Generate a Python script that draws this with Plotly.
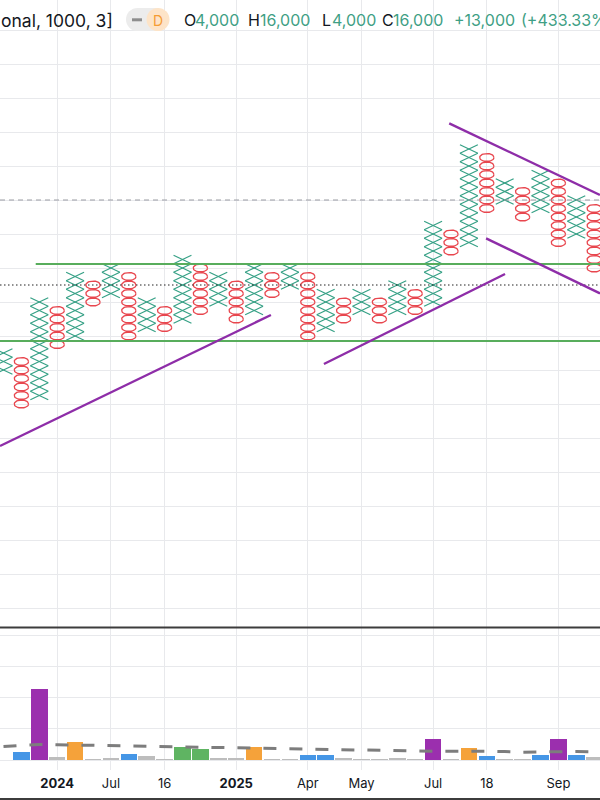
import numpy as np
import plotly.graph_objects as go

# ---------------- data ----------------
# Point & Figure columns (price in box units, box size 1000, reversal 3)
col_type = ["X", "O"] * 17
col_high = [22, 21, 28, 27, 31, 30, 32, 31, 28, 27, 33, 32, 31, 30, 32, 31, 32,
            31, 29, 28, 29, 28, 30, 29, 37, 36, 46, 45, 42, 41, 43, 42, 40, 39]
col_low = [20, 16, 17, 23, 24, 28, 29, 24, 25, 25, 26, 27, 28, 26, 27, 29, 30,
           24, 25, 26, 27, 26, 27, 27, 28, 34, 35, 39, 40, 38, 39, 35, 36, 32]

# volume per column and its moving average
volume = [0.0, 0.27, 2.28, 0.11, 0.59, 0.03, 0.07, 0.18, 0.13, 0.02, 0.42, 0.34,
          0.04, 0.04, 0.43, 0.02, 0.02, 0.16, 0.16, 0.04, 0.02, 0.02, 0.06, 0.02,
          0.67, 0.02, 0.39, 0.13, 0.02, 0.02, 0.15, 0.67, 0.16, 0.10]
volume_group = ["gray", "blue", "purple", "gray", "orange", "gray", "gray", "blue",
                "gray", "gray", "green", "green", "gray", "gray", "orange", "gray",
                "gray", "blue", "blue", "gray", "gray", "gray", "gray", "gray",
                "purple", "gray", "orange", "blue", "gray", "gray", "blue", "purple",
                "blue", "gray"]
volume_ma = [0.43, 0.46, 0.50, 0.49, 0.48, 0.46, 0.45, 0.43, 0.42, 0.41, 0.41, 0.40,
             0.39, 0.38, 0.38, 0.36, 0.34, 0.33, 0.33, 0.31, 0.30, 0.29, 0.28, 0.28,
             0.28, 0.28, 0.29, 0.28, 0.27, 0.25, 0.26, 0.27, 0.27, 0.26]

# time axis labels (column index -> label)
tick_cols = [3, 6, 9, 13, 17, 20, 24, 27, 31]
tick_labels = ["2024", "Jul", "16", "2025", "Apr", "May", "Jul", "18", "Sep"]
bold_labels = {"2024", "2025"}

# reference levels and drawn trend lines (column, price)
dashed_level = 40
dotted_level = 30
green_lines = [((1.8, 32.47), (34.0, 32.47)), ((-0.3, 23.41), (34.0, 23.41))]
purple_lines = [((-0.1955, 11.06), (14.94, 26.47)),
                ((17.9, 20.71), (28.02, 31.29)),
                ((24.9, 49.02), (33.32, 40.59)),
                ((26.96, 35.49), (33.32, 29.02))]

# ---------------- style ----------------
X_COLOR = "#35a085"
O_COLOR = "#e8464e"
GRID = "#e8e9ec"
TEXT = "#131722"
GREEN_TXT = "#3f9f85"
VOL_COLORS = {"gray": "#bdbdbd", "blue": "#4596e6", "purple": "#9b2fae",
              "orange": "#f5a23a", "green": "#5fb462"}
FONT = "Inter, Roboto, Arial, sans-serif"

W, H = 600, 800
PLOT_BOTTOM = 770  # px where plotting area ends
X_LEFT = -3.5 / 17.9
X_RIGHT = (600 - 3.5) / 17.9
BOX_PX = 8.5
Y_TOP = 40 + 200 / BOX_PX
Y_BOT = 40 - 427 / BOX_PX
VOL_PX = 31.2


def px2x(px):
    return px / W


def py2y(py):
    return (PLOT_BOTTOM - py) / PLOT_BOTTOM


fig = go.Figure()

# X marks
xs, ys = [], []
for i, (t, hi, lo) in enumerate(zip(col_type, col_high, col_low)):
    if t != "X":
        continue
    for p in range(lo, hi + 1):
        xs += [i - 0.5, i + 0.5, None, i - 0.5, i + 0.5, None]
        ys += [p - 0.5, p + 0.5, None, p + 0.5, p - 0.5, None]
fig.add_trace(go.Scatter(x=xs, y=ys, mode="lines", xaxis="x", yaxis="y",
                         line=dict(color=X_COLOR, width=1.2), hoverinfo="skip"))

# O marks
th = np.linspace(0, 2 * np.pi, 37)
ox, oy = [], []
for i, (t, hi, lo) in enumerate(zip(col_type, col_high, col_low)):
    if t != "O":
        continue
    for p in range(lo, hi + 1):
        ox += list(i + 0.40 * np.cos(th)) + [None]
        oy += list(p + 0.47 * np.sin(th)) + [None]
fig.add_trace(go.Scatter(x=ox, y=oy, mode="lines", xaxis="x", yaxis="y",
                         line=dict(color=O_COLOR, width=1.3), hoverinfo="skip"))

# reference levels
fig.add_trace(go.Scatter(x=[X_LEFT, X_RIGHT], y=[dashed_level] * 2, mode="lines",
                         xaxis="x", yaxis="y",
                         line=dict(color="#9a9ca3", width=1, dash="5px,4px")))
fig.add_trace(go.Scatter(x=[X_LEFT, X_RIGHT], y=[dotted_level] * 2, mode="lines",
                         xaxis="x", yaxis="y",
                         line=dict(color="#222222", width=1.2, dash="1.5px,2.5px")))

for (a, b) in green_lines:
    fig.add_trace(go.Scatter(x=[a[0], b[0]], y=[a[1], b[1]], mode="lines",
                             xaxis="x", yaxis="y",
                             line=dict(color="#58ad5c", width=2.2)))
for (a, b) in purple_lines:
    fig.add_trace(go.Scatter(x=[a[0], b[0]], y=[a[1], b[1]], mode="lines",
                             xaxis="x", yaxis="y",
                             line=dict(color="#8e2da8", width=2.4)))

# volume
cols = list(range(len(volume)))
fig.add_trace(go.Bar(x=cols, y=volume, xaxis="x2", yaxis="y2", width=0.92,
                     marker=dict(color=[VOL_COLORS[g] for g in volume_group],
                                 line=dict(width=0))))
fig.add_trace(go.Scatter(x=cols, y=volume_ma, mode="lines", xaxis="x2", yaxis="y2",
                         line=dict(color="#7d7d7d", width=3, dash="13px,13px")))

main_bottom = py2y(627)
vol_top = py2y(628)

ticktext = ["<b>%s</b>" % t if t in bold_labels else t for t in tick_labels]

fig.update_layout(
    width=W, height=H,
    margin=dict(l=0, r=0, t=0, b=H - PLOT_BOTTOM),
    paper_bgcolor="white", plot_bgcolor="white",
    showlegend=False, bargap=0,
    font=dict(family=FONT, color=TEXT),
    xaxis=dict(domain=[0, 1], range=[X_LEFT, X_RIGHT], anchor="y",
               tickmode="array", tickvals=tick_cols, showticklabels=False,
               showgrid=True, gridcolor=GRID, gridwidth=1, zeroline=False, ticks=""),
    yaxis=dict(domain=[main_bottom, 1], range=[Y_BOT, Y_TOP], tick0=0, dtick=4,
               showticklabels=False, showgrid=True, gridcolor=GRID, zeroline=False),
    xaxis2=dict(domain=[0, 1], range=[X_LEFT, X_RIGHT], anchor="y2", matches="x",
                tickmode="array", tickvals=tick_cols, ticktext=ticktext,
                showgrid=True, gridcolor=GRID, zeroline=False, ticks="",
                tickfont=dict(size=13, color=TEXT, family=FONT), ticklabelstandoff=4),
    yaxis2=dict(domain=[0, vol_top], range=[-10 / VOL_PX, (760 - 628) / VOL_PX],
                tick0=0, dtick=1, showticklabels=False, showgrid=True,
                gridcolor=GRID, zeroline=False),
)

shapes = []
# pane separator and bottom line
shapes.append(dict(type="line", xref="paper", yref="paper", x0=0, x1=1,
                   y0=py2y(627.5), y1=py2y(627.5), line=dict(color="#3c3c3c", width=2)))
shapes.append(dict(type="line", xref="paper", yref="paper", x0=0, x1=1,
                   y0=py2y(799), y1=py2y(799), line=dict(color="#3c3c3c", width=2)))
# header pill
shapes.append(dict(type="circle", xref="paper", yref="paper", x0=px2x(126), x1=px2x(149),
                   y0=py2y(31), y1=py2y(8), fillcolor="#ececec", line=dict(width=0),
                   layer="above"))
shapes.append(dict(type="rect", xref="paper", yref="paper", x0=px2x(137), x1=px2x(159),
                   y0=py2y(31), y1=py2y(8), fillcolor="#ececec", line=dict(width=0),
                   layer="above"))
shapes.append(dict(type="circle", xref="paper", yref="paper", x0=px2x(146.5), x1=px2x(169.5),
                   y0=py2y(31), y1=py2y(8), fillcolor="#fde4c8", line=dict(width=0),
                   layer="above"))
shapes.append(dict(type="rect", xref="paper", yref="paper", x0=px2x(132), x1=px2x(142),
                   y0=py2y(21.3), y1=py2y(18.3), fillcolor="#8d8d8d", line=dict(width=0),
                   layer="above"))
fig.update_layout(shapes=shapes)


def ann(text, px, color, size=16):
    fig.add_annotation(text=text, xref="paper", yref="paper", x=px2x(px), y=py2y(20),
                       xanchor="left", yanchor="middle", showarrow=False,
                       font=dict(size=size, color=color, family=FONT))


ann("onal, 1000, 3]", -1, TEXT, size=17.5)
fig.add_annotation(text="D", xref="paper", yref="paper", x=px2x(158), y=py2y(20),
                   xanchor="center", yanchor="middle", showarrow=False,
                   font=dict(size=14, color="#f59c34", family=FONT))
ann("O", 182, TEXT)
ann("4,000", 193, GREEN_TXT)
ann("H", 246, TEXT)
ann("16,000", 258, GREEN_TXT)
ann("L", 320, TEXT)
ann("4,000", 330, GREEN_TXT)
ann("C", 380, TEXT)
ann("16,000", 391, GREEN_TXT)
ann("+13,000", 452, GREEN_TXT)
ann("(+433.33%)", 519, GREEN_TXT)

fig.write_html(
    "out.html",
    config={"displayModeBar": False},
    post_script="document.body.style.margin='0';document.body.style.overflow='hidden';",
)
